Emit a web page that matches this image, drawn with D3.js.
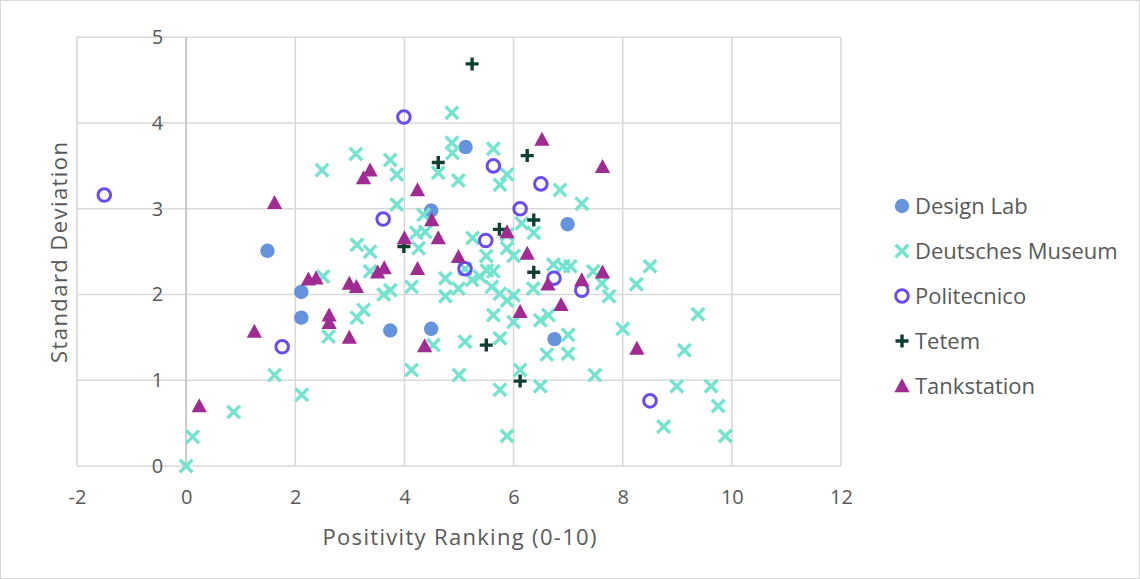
<!DOCTYPE html>
<html>
<head>
<meta charset="utf-8">
<script src="https://cdn.jsdelivr.net/npm/d3@7"></script>
<style>
  html, body { margin: 0; padding: 0; background: #fff; }
  svg { display: block; }
  text { font-family: "Open Sans", "Noto Sans", sans-serif; fill: #595959; }
</style>
</head>
<body>
<svg id="chart" width="1140" height="579"></svg>
<script>
// ---- data (Positivity Ranking, Standard Deviation) ----
const seriesNames = ["Design Lab", "Deutsches Museum", "Politecnico", "Tetem", "Tankstation"];

const designLab = [
  [1.49, 2.51], [2.11, 2.03], [2.11, 1.73], [3.74, 1.58], [4.49, 1.60],
  [4.49, 2.98], [5.12, 3.72], [6.99, 2.82], [6.75, 1.48]
];

const deutschesMuseum = [
  [0.00, 0.00], [0.12, 0.34], [0.87, 0.63], [1.62, 1.06], [2.12, 0.83],
  [2.49, 3.45], [2.51, 2.21], [2.61, 1.51], [3.11, 3.64], [3.74, 3.57],
  [3.86, 3.40], [3.86, 3.05], [3.13, 2.58], [3.37, 2.50], [3.37, 2.27],
  [3.62, 2.00], [3.74, 2.05], [3.25, 1.82], [3.13, 1.73], [4.13, 2.09],
  [4.35, 2.93], [4.22, 2.72], [4.38, 2.73], [4.26, 2.54], [4.62, 3.42],
  [4.87, 4.12], [4.87, 3.77], [4.88, 3.65], [4.99, 3.33], [4.75, 2.19],
  [4.75, 1.98], [4.99, 2.07], [4.53, 1.41], [4.13, 1.12], [5.00, 1.06],
  [5.11, 1.45], [5.25, 2.66], [5.11, 2.30], [5.24, 2.17], [5.38, 2.21],
  [5.50, 2.45], [5.51, 2.28], [5.63, 2.27], [5.60, 2.09], [5.75, 2.01],
  [6.00, 1.99], [5.88, 1.93], [5.63, 1.76], [6.00, 1.68], [5.75, 1.49],
  [6.12, 1.12], [5.75, 0.89], [5.88, 0.35], [6.49, 0.93], [6.49, 1.70],
  [6.64, 1.76], [6.61, 1.30], [7.00, 1.53], [7.00, 1.31], [7.49, 1.06],
  [5.63, 3.70], [5.88, 3.40], [5.75, 3.28], [6.85, 3.22], [7.25, 3.06],
  [5.88, 2.54], [6.00, 2.45], [5.88, 2.70], [6.15, 2.83], [6.37, 2.72],
  [6.36, 2.07], [6.73, 2.35], [6.91, 2.33], [7.04, 2.33], [7.46, 2.27],
  [7.62, 2.13], [7.75, 1.98], [8.25, 2.12], [8.50, 2.33], [8.00, 1.60],
  [9.38, 1.77], [9.13, 1.35], [8.99, 0.93], [9.62, 0.93], [9.75, 0.70],
  [9.88, 0.35], [8.75, 0.46]
];

const politecnico = [
  [-1.50, 3.16], [1.76, 1.39], [3.99, 4.07], [3.61, 2.88], [5.63, 3.50],
  [6.50, 3.29], [6.12, 3.00], [5.49, 2.63], [5.11, 2.30], [6.74, 2.19],
  [7.25, 2.05], [8.50, 0.76]
];

const tetem = [
  [5.24, 4.69], [4.62, 3.54], [6.25, 3.62], [3.99, 2.56], [5.74, 2.76],
  [6.37, 2.87], [6.37, 2.26], [5.50, 1.41], [6.12, 0.99]
];

const tankstation = [
  [1.62, 3.07], [0.24, 0.70], [1.25, 1.57], [2.24, 2.18], [2.38, 2.19],
  [4.00, 2.66], [4.62, 2.66], [2.99, 2.13], [3.12, 2.09], [3.51, 2.26],
  [3.63, 2.31], [4.24, 2.30], [4.99, 2.44], [2.62, 1.76], [2.62, 1.67],
  [2.99, 1.50], [4.37, 1.40], [6.12, 1.80], [5.88, 2.73], [6.25, 2.48],
  [6.63, 2.12], [6.87, 1.88], [7.25, 2.17], [7.63, 2.26], [8.26, 1.37],
  [7.63, 3.49], [6.52, 3.81], [3.25, 3.36], [3.37, 3.45], [4.24, 3.22],
  [4.50, 2.87]
];

const xTicks = [-2, 0, 2, 4, 6, 8, 10, 12];
const yTicks = [0, 1, 2, 3, 4, 5];
const xTitle = "Positivity Ranking (0-10)";
const yTitle = "Standard Deviation";

// ---- drawing ----
const svg = d3.select("#chart");
const W = 1140, H = 579;
const plot = { left: 77, right: 841, top: 37.3, bottom: 466 };
const FONT = '"Open Sans", "Noto Sans", sans-serif';

svg.append("rect").attr("x", 0.5).attr("y", 0.5).attr("width", W - 1).attr("height", H - 1)
  .attr("fill", "#fff").attr("stroke", "#d9d9d9").attr("stroke-width", 1);

const x = d3.scaleLinear().domain([-2, 12]).range([plot.left, plot.right]);
const y = d3.scaleLinear().domain([0, 5]).range([plot.bottom, plot.top]);

const grid = svg.append("g").attr("stroke", "#d9d9d9").attr("stroke-width", 1.6);
xTicks.forEach(t => grid.append("line").attr("x1", x(t)).attr("x2", x(t)).attr("y1", y(0)).attr("y2", y(5)));
yTicks.forEach(t => grid.append("line").attr("x1", x(-2)).attr("x2", x(12)).attr("y1", y(t)).attr("y2", y(t)));
// vertical value axis crosses at x = 0
svg.append("line").attr("x1", x(0)).attr("x2", x(0)).attr("y1", y(0)).attr("y2", y(5))
  .attr("stroke", "#c4c4c4").attr("stroke-width", 1.6);

// X axis labels via d3 axis
const xAxis = d3.axisBottom(x).tickValues(xTicks).tickSize(0).tickPadding(24).tickFormat(d => String(d));
const gx = svg.append("g").attr("transform", `translate(0,${plot.bottom})`).call(xAxis);
gx.select(".domain").remove();
gx.selectAll("text").attr("font-size", 20).attr("fill", "#595959").style("font-family", FONT);

// Y axis labels, positioned beside the axis at x = 0
const yAxis = d3.axisLeft(y).tickValues(yTicks).tickSize(0).tickPadding(23).tickFormat(d => String(d));
const gy = svg.append("g").attr("transform", `translate(${x(0)},0)`).call(yAxis);
gy.select(".domain").remove();
gy.selectAll("text").attr("font-size", 20).attr("fill", "#595959").style("font-family", FONT);

// Axis titles
svg.append("text").attr("x", (plot.left + plot.right) / 2 + 0.5).attr("y", 545)
  .attr("text-anchor", "middle").attr("font-size", 22)
  .attr("textLength", 274).attr("lengthAdjust", "spacing").text(xTitle);
svg.append("text").attr("transform", `translate(67,252.5) rotate(-90)`)
  .attr("text-anchor", "middle").attr("font-size", 22)
  .attr("textLength", 221).attr("lengthAdjust", "spacing").text(yTitle);

// marker painters
const colors = {
  "Design Lab": "#6594DC",
  "Deutsches Museum": "#74E3CF",
  "Politecnico": "#6A4BEF",
  "Tetem": "#123F33",
  "Tankstation": "#A02B93"
};
function drawMarker(g, name, cx, cy) {
  const c = colors[name];
  if (name === "Design Lab") {
    g.append("circle").attr("cx", cx).attr("cy", cy).attr("r", 7.2).attr("fill", c);
  } else if (name === "Deutsches Museum") {
    const a = 6.3;
    g.append("path").attr("d", `M${cx - a},${cy - a}L${cx + a},${cy + a}M${cx - a},${cy + a}L${cx + a},${cy - a}`)
      .attr("stroke", c).attr("stroke-width", 3.4).attr("fill", "none");
  } else if (name === "Politecnico") {
    g.append("circle").attr("cx", cx).attr("cy", cy).attr("r", 6.3).attr("fill", "none")
      .attr("stroke", c).attr("stroke-width", 3);
  } else if (name === "Tetem") {
    const a = 6.5;
    g.append("path").attr("d", `M${cx - a},${cy}L${cx + a},${cy}M${cx},${cy - a}L${cx},${cy + a}`)
      .attr("stroke", c).attr("stroke-width", 3.4).attr("fill", "none");
  } else {
    const hw = 7.6, h = 14;
    g.append("path").attr("d", `M${cx},${cy - h * 0.55}L${cx + hw},${cy + h * 0.45}L${cx - hw},${cy + h * 0.45}Z`)
      .attr("fill", c);
  }
}

const allSeries = [designLab, deutschesMuseum, politecnico, tetem, tankstation];
allSeries.forEach((data, i) => {
  const g = svg.append("g").attr("class", "series");
  data.forEach(d => drawMarker(g, seriesNames[i], x(d[0]), y(d[1])));
});

// Legend
const legend = svg.append("g");
seriesNames.forEach((name, i) => {
  const ly = 206 + i * 45;
  drawMarker(legend, name, 902, ly);
  legend.append("text").attr("x", 915).attr("y", ly).attr("dy", "0.35em")
    .attr("font-size", 22).text(name);
});
</script>
</body>
</html>
